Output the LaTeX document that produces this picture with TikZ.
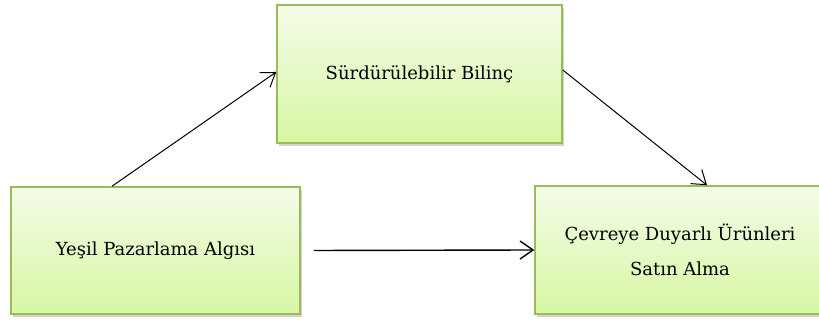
\documentclass[tikz,border=0pt]{standalone}
\usepackage{fontspec}
\setmainfont{DejaVu Serif}
\usepackage{xcolor}
\usetikzlibrary{arrows.meta,shadows}
\definecolor{boxline}{HTML}{9BBB59}
\definecolor{boxtop}{HTML}{F4FCE8}
\definecolor{boxbottom}{HTML}{D6F7A3}
\tikzstyle{greenbox} = [draw=boxline, line width=1.5pt, rectangle,
top color=boxtop, bottom color=boxbottom, font=\fontsize{18}{21}\selectfont,
align=center, drop shadow={shadow xshift=2pt, shadow yshift=-3pt, opacity=0.35}]
\tikzstyle{link} = [line width=1pt, -{Straight Barb[length=13pt,width=18pt]}]

\begin{document}
\begin{tikzpicture}[x=1pt,y=1pt]
        \useasboundingbox (0,0) rectangle (819,323);
        \node [greenbox, minimum width=285pt, minimum height=138pt] (surd) at (419.5,249) {Sürdürülebilir Bilinç};
        \node [greenbox, minimum width=289pt, minimum height=127pt] (yesil) at (155.5,72.5) {Yeşil Pazarlama Algısı};
        \node [greenbox, minimum width=290pt, minimum height=128pt] (cevre) at (680,73) {Çevreye Duyarlı Ürünleri\\[14pt] Satın Alma};
        \draw [link] ([xshift=-43.5pt]yesil.north) -- ([yshift=2pt]surd.west);
        \draw [link] ([yshift=4pt]surd.east) -- ([xshift=27pt]cevre.north);
        \draw [link, line width=1.4pt] ([xshift=13pt]yesil.east) -- (cevre.west);
    \end{tikzpicture}
\end{document}
